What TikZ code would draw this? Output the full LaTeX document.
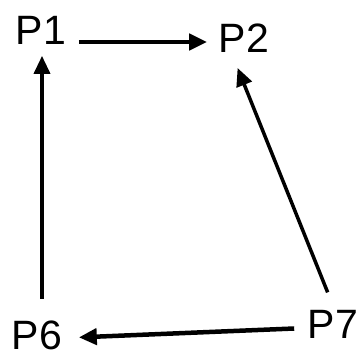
\documentclass[tikz,border=0pt]{standalone}
\usepackage{fontspec}
\setmainfont{Liberation Sans}
\usetikzlibrary{arrows.meta}
\tikzset{lbl/.style={inner sep=0pt, font=\fontsize{41}{41}\selectfont}}
\begin{document}
\begin{tikzpicture}[x=1pt, y=-1pt, >={Triangle[length=18pt,width=16pt]}, line width=3.5pt]
    \useasboundingbox (0,0) rectangle (358,358);
    \node[lbl] (p1) at (41,30) {P1};
    \node[lbl] (p2) at (244,38) {P2};
    \node[lbl] (p6) at (37,335) {P6};
    \node[lbl] (p7) at (333,324) {P7};

    \draw[->, line width=4.5pt, shorten <=11pt, shorten >=10pt] ([yshift=-12pt]p1.east) -- ([yshift=-4pt]p2.west);
    \draw[->, shorten <=20pt, shorten >=10pt] ([xshift=5pt]p6.north) -- ([xshift=1pt]p1.south);
    \draw[->, shorten <=17pt, shorten >=15pt] ([xshift=1pt]p7.north) -- ([xshift=-12pt]p2.south);
    \draw[->, line width=4.5pt, shorten <=12pt, shorten >=15pt] ([yshift=-4pt]p7.west) -- ([yshift=-3pt]p6.east);
\end{tikzpicture}
\end{document}
